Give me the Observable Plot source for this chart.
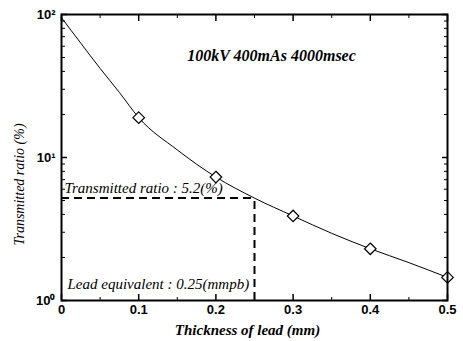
<!DOCTYPE html>
<html><head><meta charset="utf-8">
<script src="https://cdn.jsdelivr.net/npm/d3@7"></script>
<script src="https://cdn.jsdelivr.net/npm/@observablehq/plot@0.6"></script>
<style>body{margin:0;background:#fff}</style>
</head><body><div id="chart"></div>
<script>
// Measured points (diamonds)
const measX = [0.1, 0.2, 0.3, 0.4, 0.5];
const measY = [19, 7.3, 3.9, 2.3, 1.45];
// Fitted curve
const curveX = [0, 0.025, 0.05, 0.075, 0.1, 0.15, 0.2, 0.25, 0.3, 0.35, 0.4, 0.45, 0.5];
const curveY = [95, 63, 42, 28.5, 19, 11.3, 7.3, 5.2, 3.9, 2.95, 2.3, 1.84, 1.45];
// Reference lines
const leadEquivalent = 0.25;
const ratioAtLead = 5.2;
// Ticks
const xMajor = [0, 0.1, 0.2, 0.3, 0.4, 0.5];
const xMajorLabels = ["0", "0.1", "0.2", "0.3", "0.4", "0.5"];
const xMinor = [0.05, 0.15, 0.25, 0.35, 0.45];
const yMajor = [1, 10, 100];
const yMajorLabels = ["10⁰", "10¹", "10²"];
const yMinor = [2, 3, 4, 5, 6, 7, 8, 9, 20, 30, 40, 50, 60, 70, 80, 90];
// Texts
const titleText = "100kV 400mAs 4000msec";
const ratioText = "Transmitted ratio : 5.2(%)";
const leadText = "Lead equivalent : 0.25(mmpb)";
const xLabel = "Thickness of lead (mm)";
const yLabel = "Transmitted ratio (%)";

const meas = measX.map((x, i) => ({x, y: measY[i]}));
const curve = curveX.map((x, i) => ({x, y: curveY[i]}));
const serif = "Liberation Serif, Times New Roman, serif";
const sans = "Liberation Sans, Arial, sans-serif";
const blank = () => "";

const chart = Plot.plot({
  width: 463,
  height: 341,
  marginLeft: 61,
  marginRight: 16,
  marginTop: 14,
  marginBottom: 41,
  style: {background: "#fff", color: "#000"},
  x: {domain: [0, 0.5], axis: null},
  y: {type: "log", domain: [1, 100], axis: null},
  marks: [
    Plot.ruleY([ratioAtLead], {x1: 0, x2: leadEquivalent, stroke: "#000", strokeWidth: 2, strokeDasharray: "8,5"}),
    Plot.ruleX([leadEquivalent], {y1: 1, y2: ratioAtLead, stroke: "#000", strokeWidth: 2, strokeDasharray: "8,5"}),
    Plot.line(curve, {x: "x", y: "y", curve: "monotone-x", stroke: "#000", strokeWidth: 1}),
    Plot.dot(meas, {x: "x", y: "y", symbol: "diamond2", r: 5.2, fill: "#fff", stroke: "#000", strokeWidth: 1.2}),
    // x axes (inward ticks)
    Plot.axisX(xMajor, {anchor: "bottom", tickSize: -6, tickPadding: 10, tickFormat: (d) => xMajorLabels[xMajor.indexOf(d)], fontSize: 13, fontWeight: "bold", fontFamily: sans, strokeWidth: 1.5, label: null}),
    Plot.axisX(xMinor, {anchor: "bottom", tickSize: -3, tickFormat: blank, label: null}),
    Plot.axisX(xMajor, {anchor: "top", tickSize: -6, tickFormat: blank, strokeWidth: 1.5, label: null}),
    Plot.axisX(xMinor, {anchor: "top", tickSize: -3, tickFormat: blank, label: null}),
    // y axes
    Plot.axisY(yMajor, {anchor: "left", tickSize: -6, tickPadding: 12, tickFormat: (d) => yMajorLabels[yMajor.indexOf(d)], fontSize: 13, fontWeight: "bold", fontFamily: sans, strokeWidth: 1.5, label: null}),
    Plot.axisY(yMinor, {anchor: "left", tickSize: -4, tickFormat: blank, label: null}),
    Plot.axisY(yMajor, {anchor: "right", tickSize: -6, tickFormat: blank, strokeWidth: 1.5, label: null}),
    Plot.axisY(yMinor, {anchor: "right", tickSize: -4, tickFormat: blank, label: null}),
    Plot.frame({stroke: "#000", strokeWidth: 2}),
    // annotations
    Plot.text([titleText], {frameAnchor: "top", lineAnchor: "middle", dx: 17, dy: 41, fontSize: 16, fontStyle: "italic", fontWeight: "bold", fontFamily: serif, fill: "#000"}),
    Plot.text([ratioText], {x: 0, y: ratioAtLead, dx: 3, dy: -10, textAnchor: "start", fontSize: 15, fontStyle: "italic", fontFamily: serif, fill: "#000"}),
    Plot.text([leadText], {x: 0, y: 1, dx: 6, dy: -16, textAnchor: "start", fontSize: 15, fontStyle: "italic", fontFamily: serif, fill: "#000"}),
    Plot.text([xLabel], {frameAnchor: "bottom", lineAnchor: "middle", dx: -7, dy: 30, fontSize: 15, fontStyle: "italic", fontWeight: "bold", fontFamily: serif, fill: "#000"}),
    Plot.text([yLabel], {frameAnchor: "left", textAnchor: "middle", lineAnchor: "middle", dx: -42, dy: 27, rotate: -90, fontSize: 14, fontStyle: "italic", fontFamily: serif, fill: "#000"})
  ]
});
document.getElementById("chart").appendChild(chart);
</script>
</body></html>
